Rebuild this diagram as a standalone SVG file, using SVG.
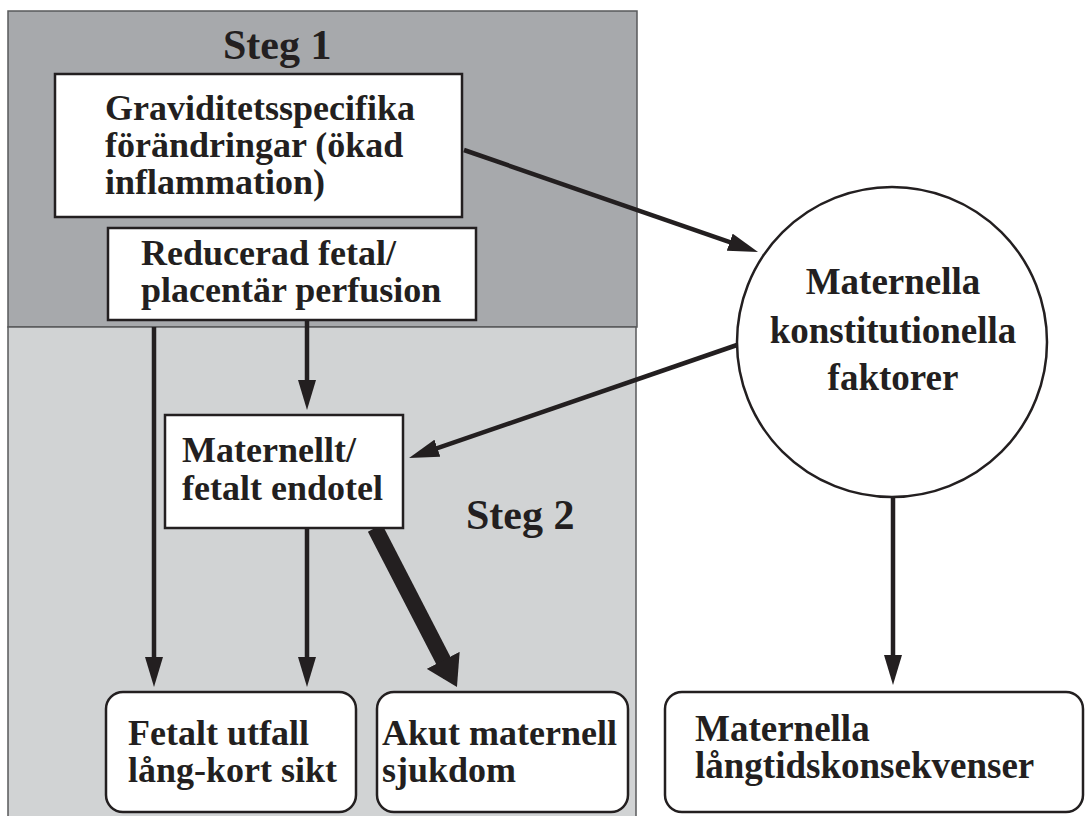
<svg xmlns="http://www.w3.org/2000/svg" width="1085" height="816" viewBox="0 0 1085 816">
<style>
.t{font-family:"Liberation Serif","Times New Roman",serif;font-weight:bold;fill:#231f20;font-size:36px}
.box{fill:#fff;stroke:#231f20;stroke-width:2.5}
.ln{stroke:#231f20;stroke-width:4.5;fill:none}
.thick{stroke:#231f20;stroke-width:16;fill:none}
</style>
<defs>
<marker id="ah" markerUnits="userSpaceOnUse" markerWidth="30" markerHeight="18" viewBox="0 0 30 18" refX="20" refY="9" orient="auto">
<path d="M0,0 L30,9 L0,18 z" fill="#231f20"/>
</marker>
<marker id="ahb" markerUnits="userSpaceOnUse" markerWidth="30" markerHeight="37" viewBox="0 0 30 37" refX="17" refY="18.5" orient="auto">
<path d="M0,0 L30,18.5 L0,37 z" fill="#231f20"/>
</marker>
</defs>
<rect width="1085" height="816" fill="#fff"/>
<g id="panels">
<rect x="8" y="11" width="629" height="316" fill="#a7a9ac" stroke="#58595b" stroke-width="1.5"/>
<rect x="8" y="327" width="628" height="495" fill="#d1d3d4" stroke="#58595b" stroke-width="1.5"/>
<text class="t" x="223" y="59" style="font-size:42px">Steg 1</text>
<text class="t" x="466" y="529" style="font-size:42px">Steg 2</text>
</g>
<g id="connectors">
<line class="ln" x1="464" y1="150" x2="748.6" y2="248.7" marker-end="url(#ah)"/>
<line class="ln" x1="737" y1="345" x2="418.5" y2="454.7" marker-end="url(#ah)"/>
<line class="ln" x1="307" y1="320" x2="307" y2="400" marker-end="url(#ah)"/>
<line class="ln" x1="154" y1="327" x2="154" y2="677" marker-end="url(#ah)"/>
<line class="ln" x1="307" y1="528" x2="307" y2="677" marker-end="url(#ah)"/>
<line class="thick" x1="375" y1="528" x2="451" y2="675.4" marker-end="url(#ahb)"/>
<line class="ln" x1="893" y1="498" x2="893" y2="675" marker-end="url(#ah)"/>
</g>
<g id="n1">
<rect class="box" x="55" y="74" width="407" height="143"/>
<text class="t" x="105" y="120">Graviditetsspecifika</text>
<text class="t" x="105" y="157">förändringar (ökad</text>
<text class="t" x="105" y="194">inflammation)</text>
</g>
<g id="n2">
<rect class="box" x="108" y="228" width="368" height="92"/>
<text class="t" x="141" y="265">Reducerad fetal/</text>
<text class="t" x="141" y="302">placentär perfusion</text>
</g>
<g id="n3">
<rect class="box" x="165" y="415" width="238" height="113"/>
<text class="t" x="182" y="462">Maternellt/</text>
<text class="t" x="182" y="500">fetalt endotel</text>
</g>
<g id="n4">
<circle cx="892" cy="342" r="155" fill="#fff" stroke="#231f20" stroke-width="2.5"/>
<text class="t" x="893" y="294" text-anchor="middle" style="font-size:37px">Maternella</text>
<text class="t" x="893" y="343" text-anchor="middle" style="font-size:37px">konstitutionella</text>
<text class="t" x="893" y="390" text-anchor="middle" style="font-size:37px">faktorer</text>
</g>
<g id="n5">
<rect class="box" x="106" y="692" width="250" height="120" rx="17"/>
<text class="t" x="128" y="745">Fetalt utfall</text>
<text class="t" x="128" y="782">lång-kort sikt</text>
</g>
<g id="n6">
<rect class="box" x="377" y="692" width="251" height="120" rx="17"/>
<text class="t" x="382" y="745">Akut maternell</text>
<text class="t" x="382" y="782">sjukdom</text>
</g>
<g id="n7">
<rect class="box" x="665" y="692" width="418" height="120" rx="17"/>
<text class="t" x="695" y="741" style="font-size:37px">Maternella</text>
<text class="t" x="695" y="778" style="font-size:37px">långtidskonsekvenser</text>
</g>
</svg>
